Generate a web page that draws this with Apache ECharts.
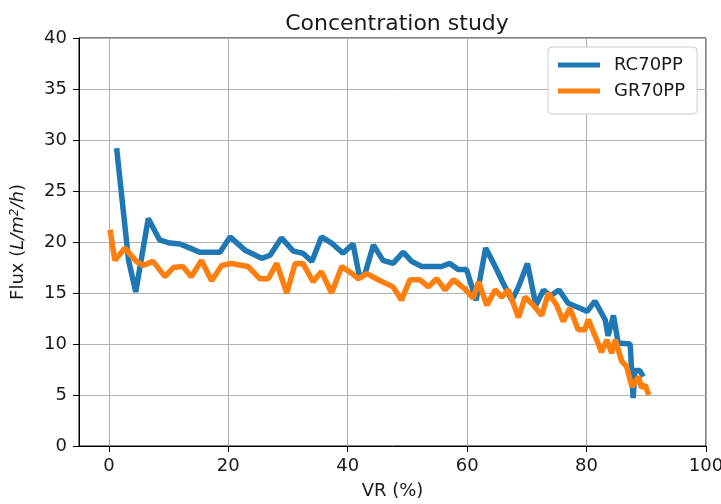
<!DOCTYPE html>
<html>
<head>
<meta charset="utf-8">
<script src="https://cdn.jsdelivr.net/npm/echarts@6/dist/echarts.min.js"></script>
<style>html,body{margin:0;padding:0;background:#fff;}#c{width:721px;height:504px;}</style>
</head>
<body>
<div id="c"></div>
<script>
const rcVR   = [1.3, 3.3, 4.5, 6.6, 8.5, 10.2, 11.9, 13.6, 15.2, 18.6, 20.3, 22.8, 25.6, 27.0, 28.9, 30.9, 32.5, 34.0, 35.6, 37.3, 39.2, 40.9, 42.0, 42.9, 44.3, 45.9, 47.6, 49.3, 50.7, 52.4, 55.7, 57.1, 58.5, 59.9, 61.5, 63.1, 64.7, 66.0, 67.5, 68.6, 70.1, 71.5, 72.8, 73.9, 75.4, 76.9, 78.9, 80.1, 81.4, 83.1, 83.6, 84.5, 85.3, 87.3, 87.8, 88.1, 88.9, 89.5];
const rcFlux = [29.2, 18.2, 15.1, 22.3, 20.2, 19.9, 19.8, 19.4, 19.0, 19.0, 20.5, 19.2, 18.4, 18.7, 20.4, 19.1, 18.9, 18.1, 20.5, 19.9, 18.9, 19.8, 16.5, 16.9, 19.7, 18.2, 17.9, 19.0, 18.1, 17.6, 17.6, 17.9, 17.3, 17.3, 14.3, 19.4, 17.6, 16.0, 14.3, 15.6, 17.9, 13.8, 15.3, 14.7, 15.3, 14.0, 13.5, 13.2, 14.2, 12.4, 10.8, 12.8, 10.1, 10.0, 4.7, 7.4, 7.4, 6.8];
const grVR   = [0.2, 1.0, 2.7, 4.6, 5.7, 7.4, 9.4, 10.8, 12.4, 13.8, 15.5, 17.2, 18.9, 20.5, 23.3, 25.3, 26.7, 28.1, 29.8, 31.2, 32.5, 34.2, 35.6, 37.3, 39.0, 40.7, 41.8, 43.2, 45.1, 47.6, 49.0, 50.4, 52.1, 53.5, 54.9, 56.3, 57.7, 59.6, 61.0, 61.9, 63.3, 64.7, 65.8, 66.9, 68.6, 69.7, 71.1, 72.5, 73.6, 75.0, 76.1, 77.2, 78.6, 79.7, 80.3, 81.7, 82.5, 83.4, 84.2, 84.8, 85.9, 86.7, 87.6, 88.7, 89.2, 89.8, 90.4];
const grFlux = [21.2, 18.2, 19.4, 18.1, 17.7, 18.1, 16.6, 17.5, 17.6, 16.6, 18.2, 16.2, 17.7, 17.9, 17.6, 16.4, 16.4, 17.9, 15.0, 17.9, 17.9, 16.1, 17.1, 15.0, 17.6, 16.9, 16.4, 16.9, 16.3, 15.6, 14.3, 16.3, 16.3, 15.6, 16.4, 15.3, 16.3, 15.4, 14.5, 16.1, 13.8, 15.3, 14.6, 15.3, 12.6, 14.6, 13.8, 12.8, 15.0, 13.8, 12.2, 13.5, 11.4, 11.4, 12.4, 10.4, 9.2, 10.4, 9.1, 10.4, 8.3, 7.8, 5.8, 6.8, 5.7, 6.0, 5.0];
const xTicks = [0, 20, 40, 60, 80, 100];
const seriesNames = ['RC70PP', 'GR70PP'];

const FONT = 'DejaVu Sans';
const TXT = '#1a1a1a';
const pair = (xs, ys) => xs.map((x, i) => [x, ys[i]]);
const chart = echarts.init(document.getElementById('c'), null, {renderer: 'canvas'});
chart.setOption({
  animation: false,
  backgroundColor: '#fff',
  textStyle: {fontFamily: FONT},
  title: {
    text: 'Concentration study', left: 392, top: 8, textAlign: 'center',
    textStyle: {fontFamily: FONT, fontSize: 22, fontWeight: 'normal', color: TXT}
  },
  grid: {left: 79, right: 15, top: 38, bottom: 58, show: true, borderColor: '#000', borderWidth: 1,
         containLabel: false, outerBoundsMode: 'none'},
  legend: {
    data: seriesNames, orient: 'vertical', left: 548, top: 47,
    icon: 'rect', itemWidth: 42, itemHeight: 5, itemGap: 8,
    padding: [9, 12, 14, 10],
    backgroundColor: '#fff', borderColor: '#cccccc', borderWidth: 1, borderRadius: 4,
    textStyle: {fontFamily: FONT, fontSize: 18, color: TXT, padding: [0, 0, 0, 9]}
  },
  xAxis: {
    type: 'value', min: -5, max: 100,
    name: 'VR (%)', nameLocation: 'middle', nameGap: 36,
    nameTextStyle: {fontFamily: FONT, fontSize: 18, color: TXT},
    axisLine: {show: true, onZero: false, lineStyle: {color: '#000', width: 1}},
    axisTick: {show: true, length: 6, customValues: xTicks, lineStyle: {color: '#000'}},
    axisLabel: {fontFamily: FONT, fontSize: 18, color: TXT, margin: 11, customValues: xTicks},
    splitLine: {show: true, customValues: xTicks, lineStyle: {color: '#b0b0b0', width: 1}}
  },
  yAxis: {
    type: 'value', min: 0, max: 40, interval: 5,
    name: 'Flux ({i|L/m}{s|2}{i|/h})', nameLocation: 'middle', nameGap: 51,
    nameTextStyle: {fontFamily: FONT, fontSize: 18, color: TXT,
      rich: {i: {fontStyle: 'italic', fontFamily: FONT, fontSize: 18, color: TXT},
             s: {fontStyle: 'italic', fontFamily: FONT, fontSize: 12, color: TXT, verticalAlign: 'top', padding: [0, 0, 7, 0]}}},
    axisLine: {show: true, onZero: false, lineStyle: {color: '#000', width: 1}},
    axisTick: {show: true, length: 6, lineStyle: {color: '#000'}},
    axisLabel: {fontFamily: FONT, fontSize: 18, color: TXT, margin: 12},
    splitLine: {show: true, lineStyle: {color: '#b0b0b0', width: 1}}
  },
  series: [
    {name: seriesNames[0], type: 'line', data: pair(rcVR, rcFlux), showSymbol: false, symbol: 'none',
     lineStyle: {color: '#1f77b4', width: 5.5}, itemStyle: {color: '#1f77b4'}},
    {name: seriesNames[1], type: 'line', data: pair(grVR, grFlux), showSymbol: false, symbol: 'none',
     lineStyle: {color: '#ff7f0e', width: 5.5}, itemStyle: {color: '#ff7f0e'}}
  ]
});
</script>
</body>
</html>
